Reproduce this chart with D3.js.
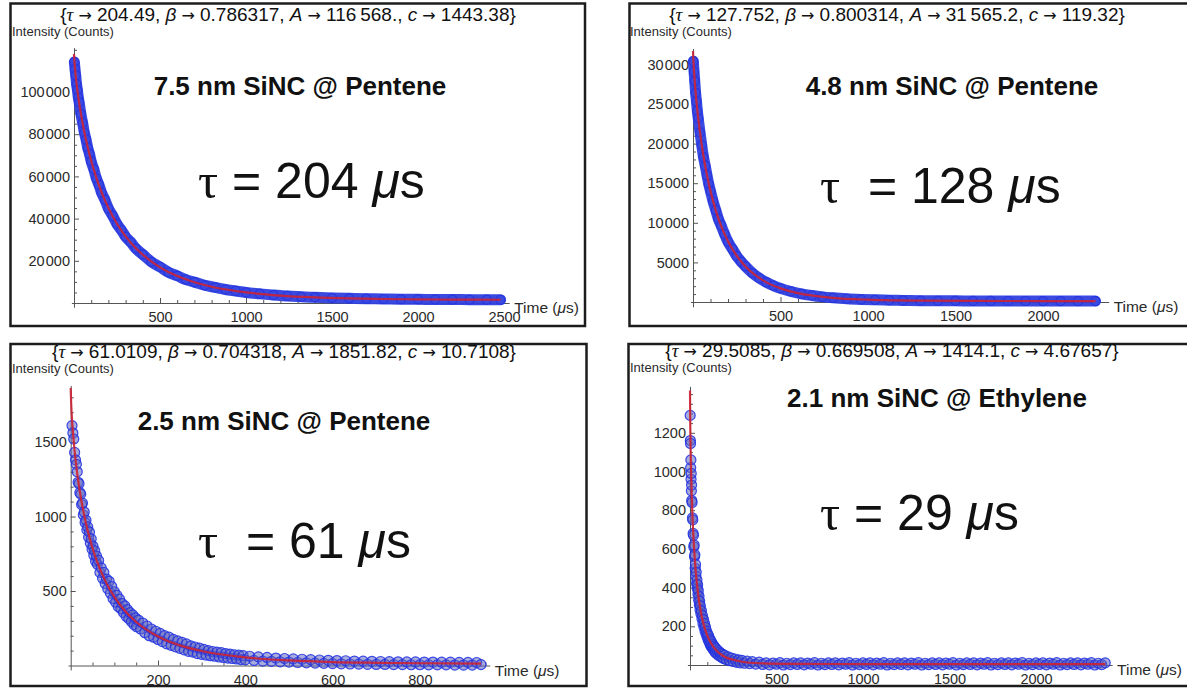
<!DOCTYPE html>
<html>
<head>
<meta charset="utf-8">
<script src="https://cdn.jsdelivr.net/npm/d3@7"></script>
<style>
  body { margin: 0; background: #fff; }
  svg { display: block; font-family: "Liberation Sans", Arial, sans-serif; }
</style>
</head>
<body>
<svg id="fig" width="1187" height="689"></svg>
<script>
// ---------- data ----------

// 7.5 nm SiNC @ Pentene (top left)
var tlTime = [2,6,10,15,20,25,30,40,50,60,70,80,90,100,115,130,145,160,180,200,225,250,275,300,330,360,400,450,500,550,600,650,700,760,820,880,940,1000,1080,1160,1240,1320,1400,1500,1600,1700,1800,1900,2000,2100,2200,2300,2400,2480];
var tlCounts = [114200,110800,107900,103600,100900,97400,95100,89600,85400,80800,77500,73500,70700,67100,63400,59100,56000,52300,48900,44800,41300,37400,34600,31400,28800,25800,23000,19500,17100,14500,12900,11100,9900,8400,7400,6400,5700,5000,4350,3750,3350,2950,2700,2400,2200,2050,1900,1800,1750,1650,1620,1580,1560,1540];
var tlFitTime = [0,2,5,10,20,40,60,80,100,130,160,200,250,300,350,400,500,600,700,800,1000,1200,1400,1600,1800,2000,2200,2480];
var tlFitCounts = [118010,114980,111880,107640,100700,89790,81060,73720,67390,59320,52560,45080,37580,31610,26790,22850,16910,12770,9840,7710,5020,3540,2690,2200,1900,1730,1620,1540];
var tlXTicks = [500,1000,1500,2000,2500];
var tlYTicks = [20000,40000,60000,80000,100000];

// 4.8 nm SiNC @ Pentene (top right)
var trTime = [2,6,10,15,20,25,30,40,50,60,70,80,90,100,115,130,145,160,180,200,225,250,275,300,340,380,420,460,500,560,620,680,740,800,880,960,1040,1120,1200,1300,1400,1500,1600,1700,1800,1900,2000,2100,2200,2300];
var trCounts = [30400,29100,27900,26400,25300,24100,23200,21400,19800,18300,17200,16000,14900,14000,12700,11600,10500,9700,8600,7600,6700,5800,5100,4500,3650,3000,2480,2060,1720,1330,1030,820,650,530,410,330,270,230,200,170,155,145,135,130,127,125,123,122,121,120];
var trFitTime = [0,2,5,10,20,40,60,80,100,130,160,200,250,300,400,500,600,800,1000,1300,1600,2000,2300];
var trFitCounts = [31685,30570,29410,27830,25280,21390,18400,15990,14000,11570,9650,7660,5820,4480,2730,1720,1120,530,295,171,135,123,120];
var trXTicks = [500,1000,1500,2000];
var trYTicks = [5000,10000,15000,20000,25000,30000];

// 2.5 nm SiNC @ Pentene (bottom left)
var blTime = [3,5,7,9,11,13,15,17,19,21,23,25,27,29,31,33,35,37,39,41,43,45,47,49,51,53,55,57,59,61,64,67,70,73,76,79,82,85,88,91,94,97,100,103,106,109,112,115,118,121,124,127,130,133,136,139,142,145,148,151,155,160,165,170,175,180,185,190,195,200,205,210,215,220,225,230,235,240,245,250,255,260,265,270,275,280,285,290,295,300,305,310,315,320,325,330,335,340,345,350,355,360,365,370,375,380,385,390,395,400,410,420,430,440,450,460,470,480,490,500,510,520,530,540,550,560,570,580,590,600,610,620,630,640,650,660,670,680,690,700,710,720,730,740,750,760,770,780,790,800,810,820,830,840,850,860,870,880,890,900,910,920,930,940];
var blCounts = [1610,1560,1520,1430,1380,1350,1300,1230,1220,1160,1150,1080,1090,1010,1030,960,975,910,930,860,895,820,850,780,800,740,770,700,735,680,705,625,655,585,625,550,580,515,565,485,530,450,495,425,470,395,445,380,415,355,400,330,375,315,355,295,340,275,320,260,305,245,285,220,265,200,245,190,230,175,215,160,200,145,190,135,175,125,165,115,155,105,145,95,132,90,124,80,116,75,108,70,100,66,94,62,90,57,86,54,80,50,77,47,72,44,70,40,66,38,62,34,58,30,54,28,50,25,47,23,44,20,42,18,39,16,37,14,35,13,33,11,32,10,30,9,29,8,28,7,27,7,26,6,25,6,24,5,24,5,23,4,23,4,22,4,22,3,21,3,21,3,20,6];
var blFitTime = [0,1,2,3,5,8,10,15,20,25,30,40,50,60,80,100,120,150,200,250,300,400,500,600,700,800,940];
var blFitCounts = [1862,1763,1703,1654,1571,1469,1411,1287,1185,1097,1021,892,787,700,563,460,381,292,195,135,97,54,34,23,18,15,13];
var blXTicks = [200,400,600,800];
var blYTicks = [500,1000,1500];

// 2.1 nm SiNC @ Ethylene (bottom right)
var brTime = [1,2,3,4,5,6,7,8,9,10,12,14,16,18,20,22,24,26,28,30,32,34,36,38,40,42,44,46,48,50,52,54,56,58,60,63,66,69,72,75,78,81,84,87,90,93,96,99,102,105,108,111,114,117,120,123,126,129,132,135,138,141,144,147,150,155,160,165,170,175,180,185,190,195,200,210,220,230,240,250,260,270,280,290,300,315,330,345,360,380,400,
  420,440,460,480,500,520,540,560,580,600,620,640,660,680,700,720,740,760,780,800,820,840,860,880,900,920,940,960,980,1000,1020,1040,1060,1080,1100,1120,1140,1160,1180,1200,1220,1240,1260,1280,1300,1320,1340,1360,1380,1400,1420,1440,1460,1480,1500,1520,1540,1560,1580,1600,1620,1640,1660,1680,1700,1720,1740,1760,1780,1800,1820,1840,1860,1880,1900,1920,1940,1960,1980,2000,2020,2040,2060,2080,2100,2120,2140,2160,2180,2200,2220,2240,2260,2280,2300,2320,2340,2360,2380,2400];
var brCounts = [1290,1160,1145,1020,1060,960,990,900,930,850,840,760,750,680,670,610,620,560,570,500,520,460,480,420,440,395,415,365,385,335,355,310,330,285,305,265,280,240,255,215,235,195,215,175,195,160,175,145,160,130,150,118,135,105,125,95,115,88,105,80,98,72,90,65,85,58,75,50,68,45,60,38,55,33,50,28,42,22,36,18,31,14,27,11,24,9,20,7,17,5,15,
  3,11,1,10,4,12,0,9,2,11,3,11,1,10,4,12,0,9,2,11,3,11,1,10,4,12,0,9,2,11,3,11,1,10,4,12,0,9,2,11,3,11,1,10,4,12,0,9,2,11,3,11,1,10,4,12,0,9,2,11,3,11,1,10,4,12,0,9,2,11,3,11,1,10,4,12,0,9,2,11,3,11,1,10,4,12,0,9,2,11,3,11,1,10,4,12,0,9,2,11];
var brFitTime = [0,1,2,3,4,5,6,8,10,14,20,25,30,40,50,60,70,80,100,120,150,175,200,250,300,400,600,1000,2400];
var brFitCounts = [1419,1280,1204,1144,1093,1047,1007,937,876,776,659,583,519,420,345,288,242,206,152,115,77,58,43,27,17,9,6,5,5];
var brXTicks = [500,1000,1500,2000];
var brYTicks = [200,400,600,800,1000,1200];

// fit parameters (header lines) and labels
var fitTau = ['204.49', '127.752', '61.0109', '29.5085'];
var fitBeta = ['0.786317', '0.800314', '0.704318', '0.669508'];
var fitA = ['116\u2009568.', '31\u2009565.2', '1851.82', '1414.1'];
var fitC = ['1443.38', '119.32', '10.7108', '4.67657'];
var sampleNames = ['7.5 nm SiNC @ Pentene', '4.8 nm SiNC @ Pentene', '2.5 nm SiNC @ Pentene', '2.1 nm SiNC @ Ethylene'];
var lifetimes = ['204', '128', '61', '29'];

// ---------- layout ----------
var panels = [
  { time: tlTime, counts: tlCounts, fitTime: tlFitTime, fitCounts: tlFitCounts, xTicks: tlXTicks, yTicks: tlYTicks,
    xMinor: 100, yMinor: 5000, xDom: [0, 2500], xRange: [74, 504], yDom: [0, 100000], yRange: [303, 92],
    xExt: [-15, 2530], yExt: [-2000, 121000], frame: [10.5, 3.5, 574.5, 322.5],
    header: [288, 21], inten: [12, 36], title: [300, 95], tau: [198, 198], tauGap: false, dense: true },
  { time: trTime, counts: trCounts, fitTime: trFitTime, fitCounts: trFitCounts, xTicks: trXTicks, yTicks: trYTicks,
    xMinor: 100, yMinor: 1000, xDom: [0, 2000], xRange: [693, 1043], yDom: [0, 30000], yRange: [302, 64.4],
    xExt: [-15, 2375], yExt: [-600, 32000], frame: [629.5, 3.5, 600, 322.5],
    header: [897, 21], inten: [630, 36], title: [952, 95], tau: [820, 203], tauGap: true, dense: true },
  { time: blTime, counts: blCounts, fitTime: blFitTime, fitCounts: blFitCounts, xTicks: blXTicks, yTicks: blYTicks,
    xMinor: 50, yMinor: 100, xDom: [0, 800], xRange: [70.7, 419.9], yDom: [0, 1500], yRange: [665.5, 442],
    xExt: [-6, 960], yExt: [-30, 1880], frame: [10.5, 344, 576, 342],
    header: [284, 358], inten: [12, 373], title: [284, 430], tau: [198, 558], tauGap: true, dense: false },
  { time: brTime, counts: brCounts, fitTime: brFitTime, fitCounts: brFitCounts, xTicks: brXTicks, yTicks: brYTicks,
    xMinor: 100, yMinor: 50, xDom: [0, 2000], xRange: [690, 1036], yDom: [0, 1200], yRange: [665, 432.8],
    xExt: [-15, 2440], yExt: [-25, 1440], frame: [628.5, 344, 600, 342],
    header: [892, 357], inten: [630, 372], title: [937, 407], tau: [820, 530], tauGap: false, dense: false }
];

var svg = d3.select('#fig');

// digit grouping like the original plots: 80000 -> "80 000"
function fmtTick(v) {
  var s = String(v);
  if (s.length >= 5) s = s.slice(0, s.length - 3) + '\u200A' + s.slice(s.length - 3);
  return s;
}

panels.forEach(function(p, i) {
  var g = svg.append('g');

  // frame
  g.append('rect')
    .attr('x', p.frame[0]).attr('y', p.frame[1])
    .attr('width', p.frame[2]).attr('height', p.frame[3])
    .attr('fill', 'none').attr('stroke', '#1c1c1c').attr('stroke-width', 2.5);

  var x = d3.scaleLinear().domain(p.xDom).range(p.xRange);
  var y = d3.scaleLinear().domain(p.yDom).range(p.yRange);

  // axis scales stretched to the drawn axis length
  var xa = d3.scaleLinear().domain(p.xExt).range(p.xExt.map(x));
  var ya = d3.scaleLinear().domain(p.yExt).range(p.yExt.map(y));

  var xMinorVals = d3.range(p.xMinor, p.xExt[1], p.xMinor).filter(function(v){ return p.xTicks.indexOf(v) < 0; });
  var yMinorVals = d3.range(p.yMinor, p.yExt[1], p.yMinor).filter(function(v){ return p.yTicks.indexOf(v) < 0; });

  var gx = g.append('g').attr('transform', 'translate(0,' + y(0) + ')');
  gx.call(d3.axisBottom(xa).tickValues(p.xTicks).tickSizeInner(-5).tickSizeOuter(0).tickPadding(9).tickFormat(fmtTick));
  gx.append('g').call(d3.axisBottom(xa).tickValues(xMinorVals).tickSizeInner(-3).tickSizeOuter(0).tickFormat(''))
    .select('.domain').remove();

  var gy = g.append('g').attr('transform', 'translate(' + x(0) + ',0)');
  gy.call(d3.axisLeft(ya).tickValues(p.yTicks).tickSizeInner(-5).tickSizeOuter(0).tickPadding(4).tickFormat(fmtTick));
  gy.append('g').call(d3.axisLeft(ya).tickValues(yMinorVals).tickSizeInner(-3).tickSizeOuter(0).tickFormat(''))
    .select('.domain').remove();

  [gx, gy].forEach(function(a) {
    a.selectAll('.domain, line').attr('stroke', '#555');
    a.selectAll('text').attr('font-family', '"Liberation Sans", Arial, sans-serif')
      .attr('font-size', 14.5).attr('fill', '#2a2a2a');
  });

  // axis labels
  var tl = g.append('text')
    .attr('x', xa(p.xExt[1]) + 5).attr('y', y(0) + 10)
    .attr('font-size', 15.5).attr('fill', '#2a2a2a');
  tl.append('tspan').text('Time (');
  tl.append('tspan').attr('font-style', 'italic').text('\u03bc');
  tl.append('tspan').text('s)');

  g.append('text')
    .attr('x', p.inten[0]).attr('y', p.inten[1])
    .attr('font-size', 13).attr('fill', '#2a2a2a')
    .text('Intensity (Counts)');

  // header with fit results
  var h = g.append('text')
    .attr('x', p.header[0]).attr('y', p.header[1])
    .attr('text-anchor', 'middle').attr('font-size', 19).attr('fill', '#111')
    .style('white-space', 'pre');
  function arrow() {
    h.append('tspan').attr('font-family', '"DejaVu Sans", sans-serif').attr('font-size', 16).text(' \u2192 ');
  }
  h.append('tspan').text('{');
  h.append('tspan').attr('font-style', 'italic').attr('font-family', '"Liberation Serif", serif').text('\u03c4');
  arrow();
  h.append('tspan').text(fitTau[i] + ', ');
  h.append('tspan').attr('font-style', 'italic').text('\u03b2');
  arrow();
  h.append('tspan').text(fitBeta[i] + ', ');
  h.append('tspan').attr('font-style', 'italic').text('A');
  arrow();
  h.append('tspan').text(fitA[i] + ', ');
  h.append('tspan').attr('font-style', 'italic').text('c');
  arrow();
  h.append('tspan').text(fitC[i] + '}');

  // data band + points
  var pts = p.time.map(function(t, k){ return [t, p.counts[k]]; });
  var fit = p.fitTime.map(function(t, k){ return [t, p.fitCounts[k]]; });
  var line = d3.line().x(function(d){ return x(d[0]); }).y(function(d){ return y(d[1]); }).curve(d3.curveMonotoneX);

  if (p.dense) {
    g.append('path').datum(pts).attr('d', line)
      .attr('fill', 'none').attr('stroke', '#2f3fdd')
      .attr('stroke-width', 11).attr('stroke-linejoin', 'round').attr('stroke-linecap', 'round')
      .attr('opacity', 0.95);
  }

  g.append('g').selectAll('circle').data(pts).enter().append('circle')
    .attr('cx', function(d){ return x(d[0]); })
    .attr('cy', function(d){ return y(d[1]); })
    .attr('r', p.dense ? 4.5 : 5)
    .attr('fill', p.dense ? '#3a4ae0' : 'rgba(95,100,190,0.6)')
    .attr('stroke', '#2434e2').attr('stroke-width', 1.2)
    .attr('opacity', 0.9);

  // fit curve
  g.append('path').datum(fit).attr('d', line)
    .attr('fill', 'none').attr('stroke', '#cc2233').attr('stroke-width', 2.2).attr('opacity', 0.9);

  // sample name
  g.append('text')
    .attr('x', p.title[0]).attr('y', p.title[1])
    .attr('text-anchor', 'middle').attr('font-size', 26).attr('font-weight', 'bold').attr('fill', '#111')
    .text(sampleNames[i]);

  // lifetime
  var tt = g.append('text')
    .attr('x', p.tau[0]).attr('y', p.tau[1])
    .attr('font-size', 50).attr('fill', '#111');
  tt.append('tspan').attr('font-family', '"Liberation Serif", serif').text('\u03c4');
  tt.append('tspan').text((p.tauGap ? '\u00a0\u00a0= ' : ' = ') + lifetimes[i] + ' ');
  tt.append('tspan').attr('font-style', 'italic').text('\u03bc');
  tt.append('tspan').text('s');
});
</script>
</body>
</html>
